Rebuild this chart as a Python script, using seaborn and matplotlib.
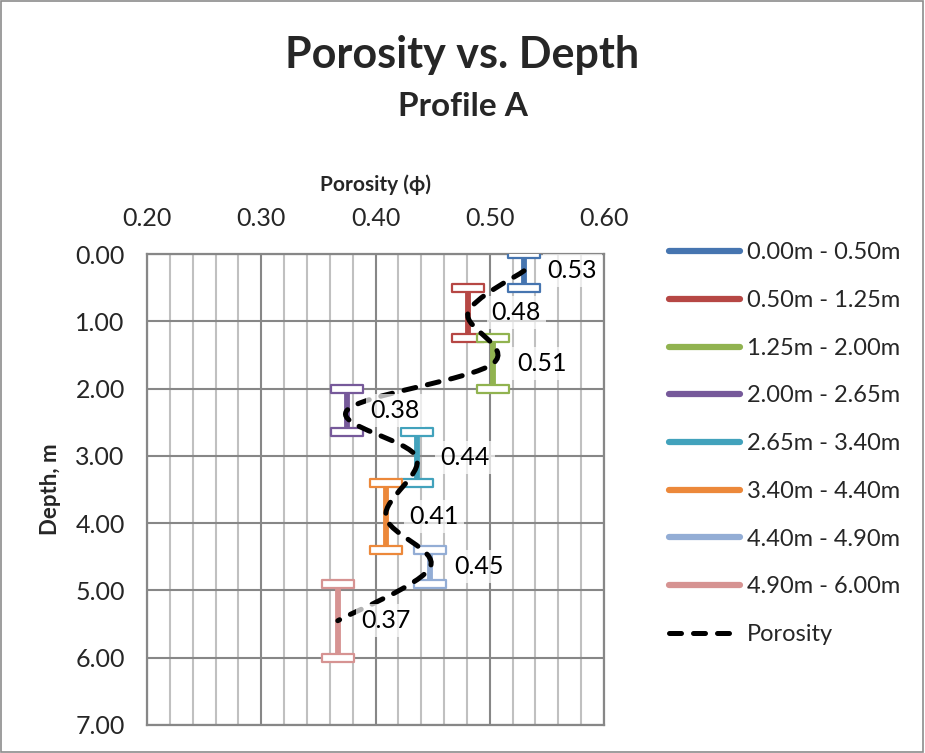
import numpy as np
import pandas as pd
import matplotlib
matplotlib.use("Agg")
import matplotlib.pyplot as plt
from matplotlib.path import Path
from matplotlib.patches import PathPatch, Rectangle
from matplotlib.ticker import MultipleLocator
from matplotlib.lines import Line2D
import seaborn as sns

# ---- data ----
intervals = ["0.00m - 0.50m", "0.50m - 1.25m", "1.25m - 2.00m", "2.00m - 2.65m",
             "2.65m - 3.40m", "3.40m - 4.40m", "4.40m - 4.90m", "4.90m - 6.00m"]
depth_top = [0.00, 0.50, 1.25, 2.00, 2.65, 3.40, 4.40, 4.90]
depth_bottom = [0.50, 1.25, 2.00, 2.65, 3.40, 4.40, 4.90, 6.00]
porosity = [0.530, 0.481, 0.503, 0.375, 0.436, 0.409, 0.448, 0.367]
porosity_labels = ["0.53", "0.48", "0.51", "0.38", "0.44", "0.41", "0.45", "0.37"]
colors = ["#4675B0", "#B64744", "#91B350", "#76599A", "#42A2BC", "#EC883A",
          "#93ADD5", "#D69392"]
x_ticks = [0.20, 0.30, 0.40, 0.50, 0.60]
y_ticks = [0, 1, 2, 3, 4, 5, 6, 7]

FONT = "Lato"

sns.set_theme(style="white")
plt.rcParams["font.family"] = [FONT, "DejaVu Sans"]

fig = plt.figure(figsize=(9.25, 7.53), dpi=100)
ax = fig.add_axes([147 / 925, 1 - 725 / 753, (604 - 147) / 925, (725 - 254) / 753])

# vertical interval bars through seaborn
rows = []
for name, p, t, b in zip(intervals, porosity, depth_top, depth_bottom):
    rows.append({"interval": name, "porosity": p, "depth": t})
    rows.append({"interval": name, "porosity": p, "depth": b})
df = pd.DataFrame(rows)
sns.lineplot(data=df, x="porosity", y="depth", hue="interval", palette=colors,
             hue_order=intervals, estimator=None, sort=False, orient="y",
             lw=4.2, ax=ax, zorder=3, legend=False)

# caps: hollow rectangles
cap_marker = Path([(-1, -0.22), (1, -0.22), (1, 0.22), (-1, 0.22), (-1, -0.22)],
                  [Path.MOVETO, Path.LINETO, Path.LINETO, Path.LINETO, Path.CLOSEPOLY])
for p, t, b, c in zip(porosity, depth_top, depth_bottom, colors):
    ax.plot([p, p], [t, b], ls="none", marker=cap_marker, markersize=23,
            markerfacecolor="white", markeredgecolor=c, markeredgewidth=1.6, zorder=4)

# smoothed porosity curve (Bezier through the interval mid points)
mid = [(t + b) / 2 for t, b in zip(depth_top, depth_bottom)]
pts = np.column_stack([porosity, mid])
n = len(pts)
verts = [tuple(pts[0])]
codes = [Path.MOVETO]
for i in range(n - 1):
    p0 = pts[i - 1] if i > 0 else pts[i]
    p1 = pts[i]
    p2 = pts[i + 1]
    p3 = pts[i + 2] if i + 2 < n else pts[i + 1]
    c1 = p1 + (p2 - p0) / 6.0
    c2 = p2 - (p3 - p1) / 6.0
    verts += [tuple(c1), tuple(c2), tuple(p2)]
    codes += [Path.CURVE4, Path.CURVE4, Path.CURVE4]
curve = PathPatch(Path(verts, codes), facecolor="none", edgecolor="black",
                  lw=3.6, linestyle=(0, (2.4, 2.4)), zorder=5)
curve.set_capstyle("round")
ax.add_patch(curve)

# data labels
for p, m, lab in zip(porosity, mid, porosity_labels):
    ax.annotate(lab, xy=(p, m), xytext=(17, 0), textcoords="offset points",
                ha="left", va="center", fontsize=18, color="black", zorder=6,
                bbox=dict(boxstyle="square,pad=0.2", fc="white", ec="none", alpha=0.7))

# axes styling
ax.set_xlim(0.20, 0.60)
ax.set_ylim(7, 0)
ax.set_xticks(x_ticks)
ax.set_xticklabels([f"{v:.2f}" for v in x_ticks])
ax.set_yticks(y_ticks)
ax.set_yticklabels([f"{v:.2f}" for v in y_ticks])
ax.xaxis.set_minor_locator(MultipleLocator(0.02))
ax.xaxis.tick_top()
ax.xaxis.set_label_position("top")
ax.tick_params(axis="both", which="both", length=0, labelsize=18)
ax.tick_params(axis="x", pad=17)
ax.tick_params(axis="y", pad=16)
ax.grid(True, which="major", axis="both", color="#878787", lw=1.5, zorder=0)
ax.grid(True, which="minor", axis="x", color="#C0C0C0", lw=1.5, zorder=0)
ax.set_axisbelow(True)
for s in ax.spines.values():
    s.set_color("#878787")
    s.set_linewidth(1.6)

ax.set_xlabel("Porosity (ϕ)", fontsize=15, fontweight="bold", labelpad=12)
ax.set_ylabel("Depth, m", fontsize=16, fontweight="bold", labelpad=10)

fig.text(0.5, 1 - 55 / 753, "Porosity vs. Depth", ha="center", va="center",
         fontsize=31, fontweight="bold")
fig.text(0.5, 1 - 107 / 753, "Profile A", ha="center", va="center",
         fontsize=24, fontweight="bold")

# legend
handles = [Line2D([0], [0], color=c, lw=4.5, solid_capstyle="round") for c in colors]
handles.append(Line2D([0], [0], color="black", lw=3.6, ls=(0, (2.4, 2.4)),
                      dash_capstyle="round"))
labels = intervals + ["Porosity"]
fig.legend(handles, labels, loc="upper left", bbox_to_anchor=(660 / 925, 1 - 233 / 753),
           frameon=False, fontsize=17, handlelength=3.0, handletextpad=0.3,
           labelspacing=1.13, borderaxespad=0)

fig.add_artist(Rectangle((0.0008, 0.001), 0.9975, 0.998, transform=fig.transFigure,
                         fill=False, ec="#8C8C8C", lw=1.2))

fig.savefig("out.png", dpi=100)
